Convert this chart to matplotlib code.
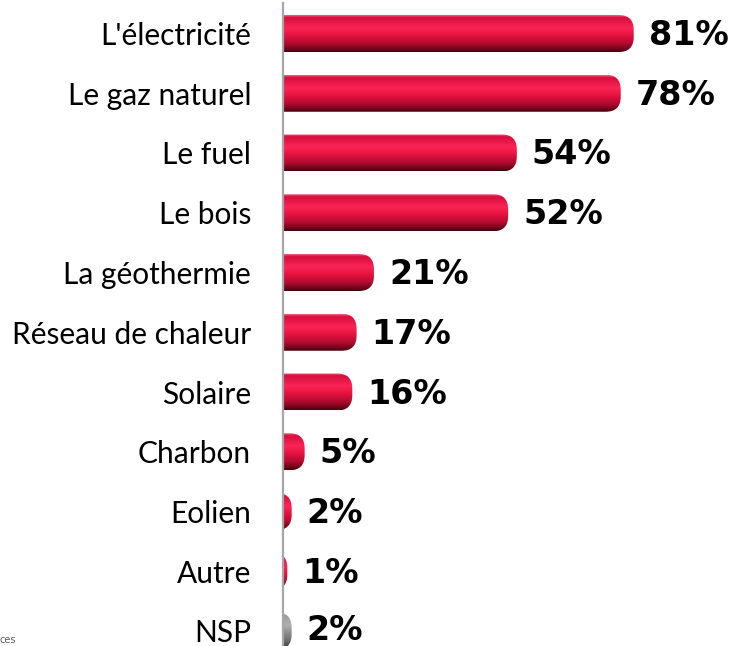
import numpy as np
import matplotlib.pyplot as plt
from matplotlib.colors import LinearSegmentedColormap
from matplotlib.patches import FancyBboxPatch

categories = ["L'électricité", "Le gaz naturel", "Le fuel", "Le bois", "La géothermie",
              "Réseau de chaleur", "Solaire", "Charbon", "Eolien", "Autre", "NSP"]
values = [81, 78, 54, 52, 21, 17, 16, 5, 2, 1, 2]
is_nsp = [False] * 10 + [True]

# pixel geometry of the original
W, H = 729, 646
x0_px = 283          # axis position
px_per_unit = 4.33   # pixels per percent
y0_px = 33.5         # centre of first bar from top
dy_px = 59.75        # bar spacing
bar_h = 37 / dy_px
r_px = 15

red = LinearSegmentedColormap.from_list("red", [
    (0.0, "#f25a80"), (0.06, "#d60f3d"), (0.35, "#fb2455"), (0.55, "#e5133f"),
    (0.78, "#b10a30"), (0.93, "#6e0519"), (1.0, "#4a0010")])
grey = LinearSegmentedColormap.from_list("grey", [
    (0.0, "#c0c0c0"), (0.06, "#9a9a9a"), (0.35, "#b0b0b0"), (0.55, "#8e8e8e"),
    (0.78, "#6a6a6a"), (0.93, "#454545"), (1.0, "#303030")])
grad = np.linspace(0, 1, 64).reshape(-1, 1)

fig = plt.figure(figsize=(W / 100, H / 100), dpi=100)
ax = fig.add_axes([x0_px / W, 0, (W - x0_px) / W, 1])
xmax = (W - x0_px) / px_per_unit

rx = r_px / px_per_unit
ry = r_px / dy_px
for i, (v, g) in enumerate(zip(values, is_nsp)):
    cmap = grey if g else red
    patch = FancyBboxPatch((-2 * rx, i - bar_h / 2), v + 2 * rx, bar_h,
                           boxstyle=f"round,pad=0,rounding_size={rx}",
                           mutation_aspect=ry / rx, transform=ax.transData,
                           facecolor="none", edgecolor="none")
    ax.add_patch(patch)
    im = ax.imshow(cmap(grad), extent=[0, v, i + bar_h / 2, i - bar_h / 2],
                   origin="upper", aspect="auto", interpolation="bilinear")
    im.set_clip_path(patch)
    off = 0 if g else 2 / dy_px
    ax.text(v + 15 / px_per_unit, i + off, f"{v}%", va="center", ha="left",
            fontsize=24, fontweight="bold", family="DejaVu Sans", color="black")

ax.set_xlim(0, xmax)
ax.set_ylim((H - y0_px) / dy_px, -y0_px / dy_px)
ax.set_yticks(range(len(categories)))
ax.set_yticklabels(categories, fontsize=21.5, family="Lato")
ax.tick_params(axis="y", length=0, pad=23)
ax.set_xticks([])
for s in ["top", "right", "bottom"]:
    ax.spines[s].set_visible(False)
ax.spines["left"].set_color("#a6a6a6")
ax.spines["left"].set_linewidth(1.6)
ax.spines["left"].set_bounds(-(y0_px - 3) / dy_px, (H - y0_px) / dy_px)

fig.text(0.0, 1 / H, "ces", fontsize=7, color="#595959", va="bottom", ha="left")

fig.savefig("out.png", dpi=100)
